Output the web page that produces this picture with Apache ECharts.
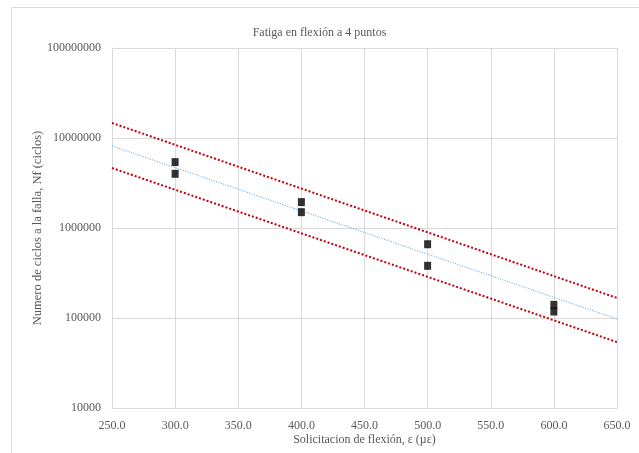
<!DOCTYPE html>
<html><head><meta charset="utf-8">
<script src="https://cdn.jsdelivr.net/npm/echarts@6/dist/echarts.min.js"></script>
<style>html,body{margin:0;padding:0;background:#fff}#c{width:639px;height:453px}</style>
</head><body><div id="c"></div>
<script>
const title = "Fatiga en flexión a 4 puntos";
const xName = "Solicitacion de flexión, ε (µε)";
const yName = "Numero de ciclos a la falla, Nf (ciclos)";
const strain = [300, 300, 400, 400, 500, 500, 600, 600];
const cycles = [5400000, 4000000, 1940000, 1500000, 660000, 380000, 140000, 118000];
const trendX = [250, 650];
const trendMid = [8150000, 97500];
const trendUpper = [14700000, 167000];
const trendLower = [4640000, 54000];

const font = "'Liberation Serif','Times New Roman',serif";
const chart = echarts.init(document.getElementById('c'));
chart.setOption({
  animation: false,
  backgroundColor: '#fff',
  graphic: [{type:'rect', shape:{x:11.5,y:7.5,width:640,height:460}, style:{fill:'none', stroke:'#d9d9d9', lineWidth:1}, silent:true}],
  title: {text: title, left: 'center', top: 22, textStyle:{fontFamily:font, fontSize:12, fontWeight:'normal', color:'#595959'}},
  grid: {left:112, right:22, top:48, bottom:45},
  xAxis: {type:'value', min:250, max:650, interval:50,
    name:xName, nameLocation:'middle', nameGap:26, nameMoveOverlap:false,
    nameTextStyle:{fontFamily:font, fontSize:12, color:'#595959'},
    axisLine:{show:true, lineStyle:{color:'#d9d9d9'}}, axisTick:{show:false},
    axisLabel:{fontFamily:font, fontSize:12, color:'#595959', formatter:v=>v.toFixed(1), margin:12},
    splitLine:{show:true, lineStyle:{color:'#d9d9d9'}}},
  yAxis: {type:'log', logBase:10, min:10000, max:100000000,
    name:yName, nameLocation:'middle', nameGap:68, nameRotate:90, nameMoveOverlap:false,
    nameTextStyle:{fontFamily:font, fontSize:12.5, color:'#595959'},
    axisLine:{show:true, lineStyle:{color:'#d9d9d9'}}, axisTick:{show:false},
    axisLabel:{fontFamily:font, fontSize:12, color:'#595959', formatter:v=>String(Math.round(v)), margin:11},
    splitLine:{show:true, lineStyle:{color:'#d9d9d9'}}, minorSplitLine:{show:false}},
  series: [
    {type:'line', data:trendX.map((x,i)=>[x,trendUpper[i]]), symbol:'none', lineStyle:{color:'#c0000f', width:2, type:[2,2]}, z:2},
    {type:'line', data:trendX.map((x,i)=>[x,trendLower[i]]), symbol:'none', lineStyle:{color:'#c0000f', width:2, type:[2,2]}, z:2},
    {type:'line', data:trendX.map((x,i)=>[x,trendMid[i]]), symbol:'none', lineStyle:{color:'#5b9bd5', width:1, type:[1,1.5]}, z:2},
    {type:'scatter', data:strain.map((x,i)=>[x,cycles[i]]), symbol:'rect', symbolSize:[7,8], itemStyle:{color:'#000'}, z:3}
  ]
});
</script></body></html>
